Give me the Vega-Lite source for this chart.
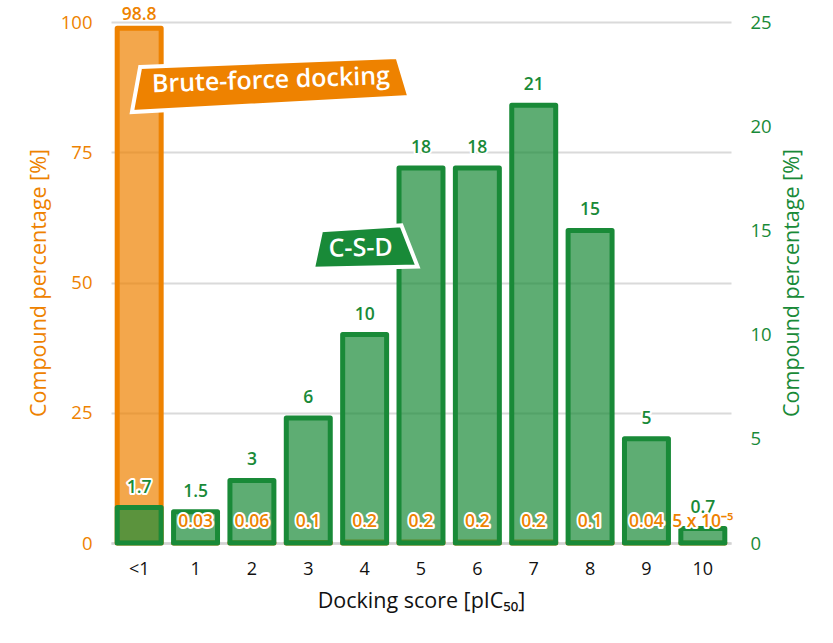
{
  "$schema": "https://vega.github.io/schema/vega-lite/v6.json",
  "autosize": {"type": "none"},
  "width": 620,
  "height": 521,
  "padding": {"left": 111, "top": 22, "right": 102, "bottom": 100},
  "data": {
    "values": [
      {"score": "<1", "bf": 98.8, "csd": 1.7, "bfLabel": "98.8", "csdLabel": "1.7"},
      {"score": "1", "bf": 0.03, "csd": 1.5, "bfLabel": "0.03", "csdLabel": "1.5"},
      {"score": "2", "bf": 0.06, "csd": 3, "bfLabel": "0.06", "csdLabel": "3"},
      {"score": "3", "bf": 0.1, "csd": 6, "bfLabel": "0.1", "csdLabel": "6"},
      {"score": "4", "bf": 0.2, "csd": 10, "bfLabel": "0.2", "csdLabel": "10"},
      {"score": "5", "bf": 0.2, "csd": 18, "bfLabel": "0.2", "csdLabel": "18"},
      {"score": "6", "bf": 0.2, "csd": 18, "bfLabel": "0.2", "csdLabel": "18"},
      {"score": "7", "bf": 0.2, "csd": 21, "bfLabel": "0.2", "csdLabel": "21"},
      {"score": "8", "bf": 0.1, "csd": 15, "bfLabel": "0.1", "csdLabel": "15"},
      {"score": "9", "bf": 0.04, "csd": 5, "bfLabel": "0.04", "csdLabel": "5"},
      {"score": "10", "bf": 0.00005, "csd": 0.7, "bfLabel": "5 x 10⁻⁵", "csdLabel": "0.7"}
    ]
  },
  "encoding": {
    "x": {
      "field": "score",
      "type": "nominal",
      "sort": null,
      "scale": {"paddingInner": 0.22, "paddingOuter": 0.11},
      "axis": {
        "title": "Docking score [pIC₅₀]",
        "labelAngle": 0,
        "labelFontSize": 18,
        "labelColor": "#111111",
        "labelPadding": 17,
        "ticks": false,
        "domainColor": "#d3d3d3",
        "domainWidth": 2.5,
        "titleFontSize": 21.5,
        "titleFontWeight": "normal",
        "titleColor": "#111111",
        "titlePadding": 12
      }
    }
  },
  "layer": [
    {
      "mark": {"type": "bar", "fill": "#ee8200", "fillOpacity": 0.7, "stroke": "#ee8200", "strokeWidth": 5, "strokeJoin": "round"},
      "encoding": {
        "y": {
          "field": "bf",
          "type": "quantitative",
          "scale": {"domain": [0, 100]},
          "axis": {
            "orient": "left",
            "title": "Compound percentage [%]",
            "values": [0, 25, 50, 75, 100],
            "grid": true,
            "gridColor": "#dadada",
            "gridWidth": 2,
            "domain": false,
            "ticks": false,
            "labelColor": "#ee8200",
            "labelFontSize": 18.5,
            "labelPadding": 19,
            "titleColor": "#ee8200",
            "titleFontSize": 21.5,
            "titleFontWeight": "normal",
            "titlePadding": 10
          }
        }
      }
    },
    {
      "mark": {"type": "bar", "fill": "#198a38", "fillOpacity": 0.7, "stroke": "#198a38", "strokeWidth": 5, "strokeJoin": "round"},
      "encoding": {
        "y": {
          "field": "csd",
          "type": "quantitative",
          "scale": {"domain": [0, 25]},
          "axis": {
            "orient": "right",
            "title": "Compound percentage [%]",
            "values": [0, 5, 10, 15, 20, 25],
            "grid": false,
            "domain": false,
            "ticks": false,
            "labelColor": "#198a38",
            "labelFontSize": 18.5,
            "labelPadding": 19,
            "titleColor": "#198a38",
            "titleFontSize": 21.5,
            "titleFontWeight": "normal",
            "titleAngle": -90,
            "titlePadding": 32
          }
        }
      }
    },
    {
      "mark": {"type": "text", "baseline": "middle", "dy": -20, "fontSize": 17.5, "fontWeight": 600, "fill": "white", "stroke": "white", "strokeWidth": 4, "strokeJoin": "round"},
      "encoding": {
        "y": {"field": "csd", "type": "quantitative", "scale": {"domain": [0, 25]}, "axis": null},
        "text": {"field": "csdLabel"}
      }
    },
    {
      "mark": {"type": "text", "baseline": "middle", "dy": -20, "fontSize": 17.5, "fontWeight": 600, "fill": "#198a38"},
      "encoding": {
        "y": {"field": "csd", "type": "quantitative", "scale": {"domain": [0, 25]}, "axis": null},
        "text": {"field": "csdLabel"}
      }
    },
    {
      "transform": [{"filter": "datum.score == '<1'"}],
      "mark": {"type": "text", "baseline": "middle", "dy": -13, "fontSize": 17.5, "fontWeight": 600, "fill": "#ee8200"},
      "encoding": {
        "y": {"field": "bf", "type": "quantitative", "scale": {"domain": [0, 100]}, "axis": null},
        "text": {"field": "bfLabel"}
      }
    },
    {
      "transform": [{"filter": "datum.score != '<1'"}],
      "mark": {"type": "text", "baseline": "middle", "dy": -21, "fontSize": 17.5, "fontWeight": 600, "fill": "white", "stroke": "white", "strokeWidth": 4, "strokeJoin": "round"},
      "encoding": {
        "y": {"datum": 0, "type": "quantitative", "scale": {"domain": [0, 100]}, "axis": null},
        "text": {"field": "bfLabel"}
      }
    },
    {
      "transform": [{"filter": "datum.score != '<1'"}],
      "mark": {"type": "text", "baseline": "middle", "dy": -21, "fontSize": 17.5, "fontWeight": 600, "fill": "#ee8200"},
      "encoding": {
        "y": {"datum": 0, "type": "quantitative", "scale": {"domain": [0, 100]}, "axis": null},
        "text": {"field": "bfLabel"}
      }
    },
    {
      "data": {"values": [{"label": "Brute-force docking"}]},
      "mark": {"type": "point", "shape": "M-0.745,-0.12L0.97,-0.187L1.05,0.08L-0.8,0.18Z", "size": 90000, "filled": true, "fill": "#ee8200", "opacity": 1, "stroke": "white", "strokeWidth": 4, "strokeJoin": "miter"},
      "encoding": {
        "x": {"datum": "2"},
        "y": {"datum": 87.9, "type": "quantitative", "scale": {"domain": [0, 100]}, "axis": null}
      }
    },
    {
      "data": {"values": [{"label": "Brute-force docking"}]},
      "mark": {"type": "text", "baseline": "middle", "align": "center", "dx": 19, "angle": -2, "fontSize": 25, "fontWeight": 600, "fill": "white"},
      "encoding": {
        "x": {"datum": "2"},
        "y": {"datum": 88.7, "type": "quantitative", "scale": {"domain": [0, 100]}, "axis": null},
        "text": {"field": "label"}
      }
    },
    {
      "data": {"values": [{"label": "C-S-D"}]},
      "mark": {"type": "point", "shape": "M-0.29,-0.112L0.245,-0.145L0.353,0.13L-0.345,0.145Z", "size": 90000, "filled": true, "fill": "#198a38", "opacity": 1, "stroke": "white", "strokeWidth": 4, "strokeJoin": "miter"},
      "encoding": {
        "x": {"datum": "4"},
        "y": {"datum": 56.8, "type": "quantitative", "scale": {"domain": [0, 100]}, "axis": null}
      }
    },
    {
      "data": {"values": [{"label": "C-S-D"}]},
      "mark": {"type": "text", "baseline": "middle", "align": "center", "dx": -4, "angle": -1, "fontSize": 25, "fontWeight": 600, "fill": "white"},
      "encoding": {
        "x": {"datum": "4"},
        "y": {"datum": 56.6, "type": "quantitative", "scale": {"domain": [0, 100]}, "axis": null},
        "text": {"field": "label"}
      }
    }
  ],
  "resolve": {"scale": {"y": "independent"}},
  "config": {
    "font": "Open Sans",
    "view": {"stroke": null}
  }
}
